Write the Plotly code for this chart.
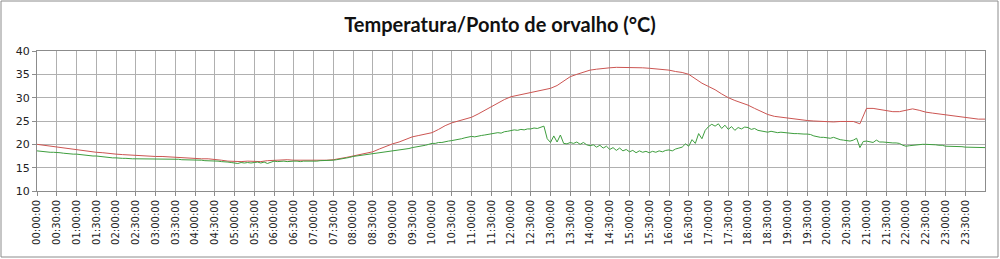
import pandas as pd
import plotly.graph_objects as go

# ---------------- data ----------------
day = "2020-01-01"
temp_step = "10min"
dew_step = "5min"

# Temperatura (°C), every 10 minutes 00:00 .. 24:00
temperatura = [
    20.0, 19.8, 19.6, 19.4, 19.2, 19.0,
    18.8, 18.6, 18.5, 18.3, 18.2, 18.0,
    17.9, 17.8, 17.7, 17.6, 17.5, 17.5,
    17.4, 17.4, 17.3, 17.2, 17.2, 17.1,
    17.0, 16.9, 16.9, 16.8, 16.6, 16.4,
    16.3, 16.3, 16.4, 16.4, 16.3, 16.5,
    16.6, 16.6, 16.7, 16.6, 16.6, 16.5,
    16.5, 16.6, 16.6, 16.7, 16.9, 17.2,
    17.5, 17.8, 18.1, 18.4, 19.0, 19.6,
    20.1, 20.5, 21.1, 21.6, 21.9, 22.2,
    22.5, 23.2, 24.0, 24.6, 25.0, 25.4,
    25.8, 26.5, 27.3, 28.1, 28.8, 29.6,
    30.2, 30.5, 30.9, 31.2, 31.5, 31.8,
    32.0, 32.6, 33.6, 34.5, 35.0, 35.5,
    35.9, 36.1, 36.3, 36.4, 36.5, 36.5,
    36.5, 36.4, 36.4, 36.3, 36.2, 36.1,
    35.9, 35.6, 35.4, 35.0, 34.0, 33.1,
    32.4, 31.7, 30.8, 30.0, 29.4, 28.9,
    28.4, 27.7, 27.0, 26.4, 26.0, 25.8,
    25.6, 25.4, 25.2, 25.1, 25.0, 24.9,
    24.8, 24.8, 24.9, 24.9, 24.9, 24.4,
    27.7, 27.7, 27.5, 27.3, 27.0, 27.0,
    27.3, 27.6, 27.3, 26.9, 26.7, 26.5,
    26.3, 26.1, 25.9, 25.7, 25.5, 25.4,
    25.4,
]

# Ponto de orvalho (°C), every 5 minutes 00:00 .. 24:00
ponto_orvalho = [
    18.6, 18.5, 18.4, 18.4, 18.3, 18.3, 18.3, 18.2, 18.1, 18.0, 18.0, 17.9,
    17.9, 17.8, 17.7, 17.7, 17.6, 17.5, 17.5, 17.4, 17.3, 17.2, 17.2, 17.1,
    17.1, 17.0, 17.0, 17.0, 16.9, 16.9, 16.9, 16.9, 16.9, 16.9, 16.9, 16.9,
    16.9, 16.9, 16.9, 16.9, 16.8, 16.8, 16.8, 16.8, 16.7, 16.7, 16.7, 16.6,
    16.6, 16.6, 16.6, 16.5, 16.5, 16.4, 16.4, 16.4, 16.3, 16.3, 16.2, 16.1,
    16.0, 15.9, 16.1, 16.0, 16.1, 16.0, 16.1, 16.2, 16.0, 16.2, 15.9, 16.1,
    16.4, 16.3, 16.4, 16.4, 16.3, 16.4, 16.4, 16.4, 16.3, 16.4, 16.4, 16.3,
    16.4, 16.4, 16.5, 16.5, 16.5, 16.6, 16.6, 16.7, 16.8, 16.9, 17.0, 17.2,
    17.4, 17.5, 17.6, 17.7, 17.8, 17.9, 17.9, 18.0, 18.1, 18.2, 18.3, 18.4,
    18.6, 18.6, 18.8, 18.8, 19.0, 19.1, 19.3, 19.4, 19.6, 19.6, 19.8, 20.0,
    20.2, 20.2, 20.4, 20.4, 20.6, 20.7, 20.8, 20.9, 21.0, 21.2, 21.4, 21.5,
    21.7, 21.6, 21.8, 21.9, 22.0, 22.1, 22.2, 22.3, 22.5, 22.4, 22.7, 22.8,
    22.9, 23.1, 23.0, 23.2, 23.1, 23.3, 23.3, 23.5, 23.4, 23.6, 23.9, 21.2,
    20.4, 21.8, 20.5, 22.0, 20.2, 20.1, 20.4, 20.2, 20.5, 20.0, 20.4, 19.9,
    19.7, 19.9, 19.4, 19.8, 19.2, 19.6, 18.9, 19.3, 18.7, 19.2, 18.6, 18.9,
    18.4, 18.7, 18.2, 18.6, 18.3, 18.5, 18.2, 18.5, 18.3, 18.6, 18.4, 18.7,
    18.8, 18.6, 19.0, 19.2, 19.4, 20.1, 19.6, 21.0, 20.2, 22.3, 21.2, 23.0,
    23.8, 24.3, 23.9, 24.4, 23.4, 24.1, 23.2, 23.8, 23.0, 23.6, 23.3, 23.7,
    23.6, 23.2, 23.4, 23.0, 22.9, 22.7, 22.6, 22.8, 22.6, 22.5, 22.6, 22.5,
    22.4, 22.4, 22.3, 22.3, 22.2, 22.2, 22.2, 22.1, 21.8, 21.6, 21.5, 21.5,
    21.4, 21.3, 21.5, 21.2, 21.0, 20.9, 20.8, 20.7, 20.9, 21.3, 19.3, 20.6,
    20.7, 20.5, 20.4, 20.9, 20.5, 20.5, 20.4, 20.4, 20.3, 20.3, 20.2, 19.8,
    19.6, 19.7, 19.8, 19.9, 19.9, 20.0, 20.0, 20.0, 19.9, 19.9, 19.8, 19.8,
    19.6, 19.6, 19.6, 19.6, 19.5, 19.5, 19.4, 19.4, 19.3, 19.3, 19.3, 19.3,
    19.3,
]

title_text = "Temperatura/Ponto de orvalho (°C)"
y_ticks = [10, 15, 20, 25, 30, 35, 40]
tick_step = "30min"

# ---------------- figure ----------------
t_temp = pd.date_range(day, periods=len(temperatura), freq=temp_step)
t_dew = pd.date_range(day, periods=len(ponto_orvalho), freq=dew_step)
start = pd.Timestamp(day)
end = start + pd.Timedelta(hours=24)
x_ticks = pd.date_range(start, end, freq=tick_step)[:-1]

W, H = 1000, 259
L, R, T, B = 37, 15, 51, 68

fig = go.Figure()
fig.add_trace(go.Scatter(x=t_temp, y=temperatura, mode="lines",
                         line=dict(color="#CC5552", width=1), name="Temperatura"))
fig.add_trace(go.Scatter(x=t_dew, y=ponto_orvalho, mode="lines",
                         line=dict(color="#3E9E3E", width=1), name="Ponto de orvalho"))

pw, ph = W - L - R, H - T - B
fig.add_shape(type="rect", xref="paper", yref="paper",
              x0=(1 - L) / pw, x1=(W - 2 - L) / pw,
              y0=1 - (H - 2 - T) / ph, y1=1 - (1 - T) / ph,
              line=dict(color="#8c8c8c", width=1), layer="below")

fig.update_layout(
    width=W, height=H,
    margin=dict(l=L, r=R, t=T, b=B),
    paper_bgcolor="white", plot_bgcolor="white",
    showlegend=False,
    title=dict(text=f"<b>{title_text}</b>", x=0.5, xanchor="center",
               y=1 - 25 / H, yanchor="middle",
               font=dict(family="Lato", size=20, color="#111111")),
    font=dict(family="DejaVu Sans", size=10, color="#222222"),
)
fig.update_xaxes(
    range=[start, end], tickmode="array", tickvals=x_ticks,
    tickformat="%H:%M:%S", tickangle=-90,
    showgrid=True, gridcolor="#b0b0b0", gridwidth=1,
    showline=True, linecolor="#8c8c8c", mirror=True,
    ticks="outside", ticklen=4, tickcolor="#8c8c8c",
    tickfont=dict(family="DejaVu Sans", size=10, color="#222222"),
)
fig.update_yaxes(
    range=[10, 40], tickmode="array", tickvals=y_ticks,
    showgrid=True, gridcolor="#b0b0b0", gridwidth=1, zeroline=False,
    showline=True, linecolor="#8c8c8c", mirror=True,
    ticks="outside", ticklen=4, tickcolor="#8c8c8c",
    tickfont=dict(family="DejaVu Sans", size=11, color="#222222"),
)

fig.write_html("out.html")
